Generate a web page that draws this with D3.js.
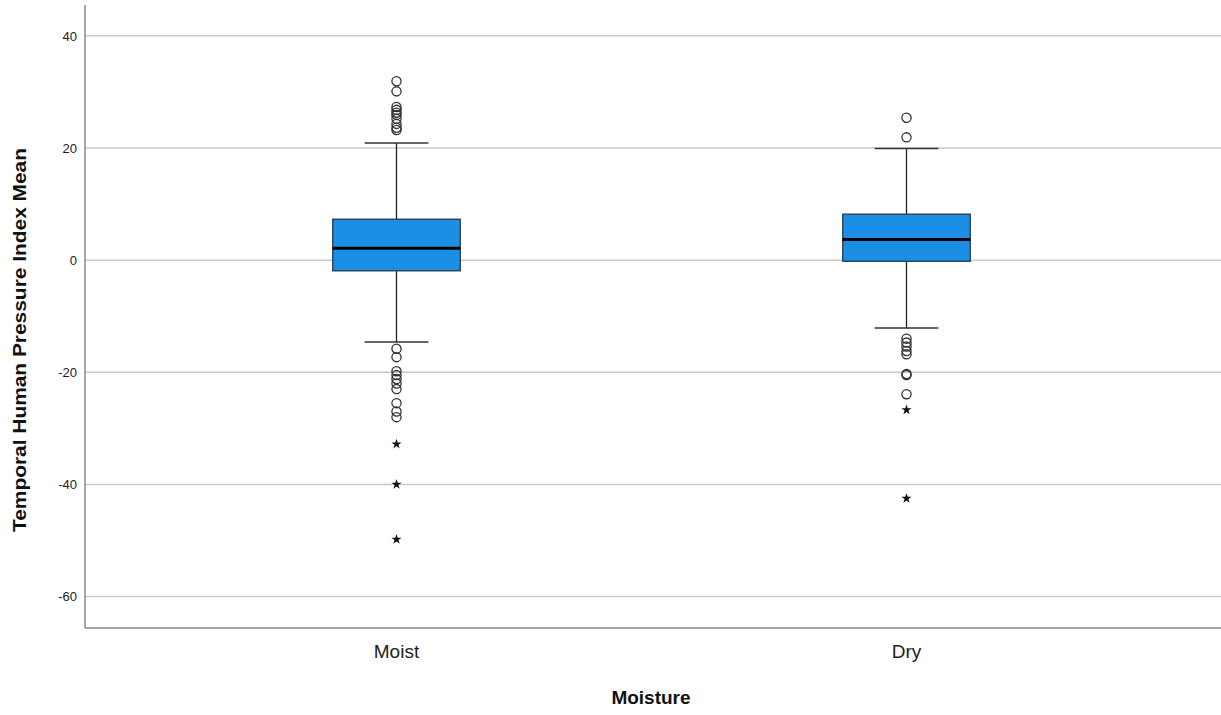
<!DOCTYPE html>
<html>
<head>
<meta charset="utf-8">
<script src="https://cdn.jsdelivr.net/npm/d3@7"></script>
<style>
  body { margin: 0; background: #fff; }
  text { font-family: Arial, "Liberation Sans", sans-serif; }
</style>
</head>
<body>
<div id="chart"></div>
<script>
// groups and their five-number summaries
const groups = ['Moist', 'Dry'];
const q1 = [-1.9, -0.2];
const medians = [2.1, 3.7];
const q3 = [7.3, 8.2];
const whiskerLow = [-14.6, -12.1];
const whiskerHigh = [20.9, 19.9];

// outliers (circles) and extremes (stars)
const moistOutliers = [31.9, 30.1, 27.3, 26.8, 26.3, 25.9, 25.2, 24.3, 23.6, 23.2,
  -15.8, -17.3, -19.8, -20.5, -21.2, -22.0, -23.0, -25.5, -27.0, -28.0];
const moistExtremes = [-32.8, -40.0, -49.8];
const dryOutliers = [25.4, 21.9, -14.0, -14.7, -15.4, -16.2, -16.8, -20.3, -20.5, -23.9];
const dryExtremes = [-26.7, -42.5];

const yTicks = [40, 20, 0, -20, -40, -60];

const width = 1221, height = 715;
const plot = {left: 85, right: 1221, top: 5, bottom: 628};

const svg = d3.select('#chart').append('svg')
    .attr('width', width)
    .attr('height', height);

const y = d3.scaleLinear().domain([-65.6, 45.5]).range([plot.bottom, plot.top]);
const x = d3.scaleBand().domain(groups).range([141.5, 1161.5]);

// grid lines
svg.append('g').selectAll('line')
    .data(yTicks).enter()
    .append('line')
    .attr('x1', plot.left).attr('x2', plot.right)
    .attr('y1', (d) => y(d)).attr('y2', (d) => y(d))
    .attr('stroke', '#c8c8c8')
    .attr('stroke-width', 1.5);

// y axis
const yAxis = svg.append('g')
    .attr('transform', 'translate(' + plot.left + ',0)')
    .call(d3.axisLeft(y).tickValues(yTicks).tickFormat((d) => String(d))
        .tickSize(0).tickPadding(8));
yAxis.select('.domain').remove();
yAxis.selectAll('text')
    .attr('font-size', 13)
    .attr('fill', '#222')
    .style('font-family', 'Arial, "Liberation Sans", sans-serif');

// frame lines
svg.append('line')
    .attr('x1', plot.left).attr('x2', plot.left)
    .attr('y1', plot.top).attr('y2', plot.bottom)
    .attr('stroke', '#888').attr('stroke-width', 1.5);
svg.append('line')
    .attr('x1', plot.left).attr('x2', plot.right)
    .attr('y1', plot.bottom).attr('y2', plot.bottom)
    .attr('stroke', '#888').attr('stroke-width', 1.5);

// x axis labels
const xAxis = svg.append('g')
    .attr('transform', 'translate(0,' + plot.bottom + ')')
    .call(d3.axisBottom(x).tickSize(0).tickPadding(17));
xAxis.select('.domain').remove();
xAxis.selectAll('text')
    .attr('font-size', 19)
    .attr('fill', '#222')
    .style('font-family', 'Arial, "Liberation Sans", sans-serif');

const bw = x.bandwidth() * 0.25;
const cw = bw / 2;

const boxes = svg.append('g').selectAll('g')
    .data(groups).enter()
    .append('g')
    .attr('transform', (d) => 'translate(' + (x(d) + x.bandwidth() / 2) + ',0)');

// whisker stems
boxes.append('line')
    .attr('x1', 0).attr('x2', 0)
    .attr('y1', (d, i) => y(whiskerHigh[i]))
    .attr('y2', (d, i) => y(whiskerLow[i]))
    .attr('stroke', '#222').attr('stroke-width', 1.3);
// caps
boxes.append('line')
    .attr('x1', -cw / 2).attr('x2', cw / 2)
    .attr('y1', (d, i) => y(whiskerHigh[i]))
    .attr('y2', (d, i) => y(whiskerHigh[i]))
    .attr('stroke', '#333').attr('stroke-width', 1.5);
boxes.append('line')
    .attr('x1', -cw / 2).attr('x2', cw / 2)
    .attr('y1', (d, i) => y(whiskerLow[i]))
    .attr('y2', (d, i) => y(whiskerLow[i]))
    .attr('stroke', '#333').attr('stroke-width', 1.5);
// box
boxes.append('rect')
    .attr('x', -bw / 2)
    .attr('width', bw)
    .attr('y', (d, i) => y(q3[i]))
    .attr('height', (d, i) => y(q1[i]) - y(q3[i]))
    .attr('fill', '#1b8fe6')
    .attr('stroke', '#26384a')
    .attr('stroke-width', 1.3);
// median
boxes.append('line')
    .attr('x1', -bw / 2).attr('x2', bw / 2)
    .attr('y1', (d, i) => y(medians[i]))
    .attr('y2', (d, i) => y(medians[i]))
    .attr('stroke', '#000').attr('stroke-width', 3);

const outliers = [moistOutliers, dryOutliers];
const extremes = [moistExtremes, dryExtremes];

boxes.each(function(d, i) {
  const g = d3.select(this);
  g.selectAll('circle')
      .data(outliers[i]).enter()
      .append('circle')
      .attr('cx', 0)
      .attr('cy', (v) => y(v))
      .attr('r', 4.6)
      .attr('fill', 'none')
      .attr('stroke', '#333')
      .attr('stroke-width', 1.3);
  g.selectAll('path.star')
      .data(extremes[i]).enter()
      .append('path')
      .attr('class', 'star')
      .attr('transform', (v) => 'translate(0,' + y(v) + ')')
      .attr('d', d3.symbol(d3.symbolStar).size(32))
      .attr('fill', '#111');
});

// axis titles
svg.append('text')
    .attr('transform', 'translate(26,' + 340 + ') rotate(-90)')
    .attr('text-anchor', 'middle')
    .attr('font-size', 18)
    .attr('font-weight', 'bold')
    .attr('textLength', 384)
    .attr('lengthAdjust', 'spacingAndGlyphs')
    .attr('fill', '#111')
    .text('Temporal Human Pressure Index Mean');

svg.append('text')
    .attr('x', 651)
    .attr('y', 704)
    .attr('text-anchor', 'middle')
    .attr('font-size', 19)
    .attr('font-weight', 'bold')
    .attr('fill', '#111')
    .text('Moisture');
</script>
</body>
</html>
